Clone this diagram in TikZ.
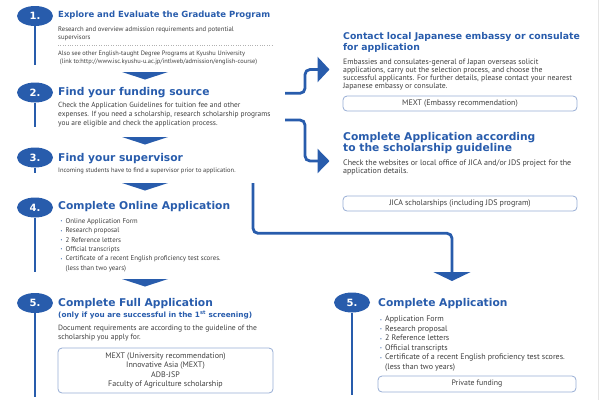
\documentclass[tikz,border=0pt]{standalone}
\usepackage{fontspec}
\setmainfont{PT Sans}
\newfontfamily\headfont{DejaVu Sans}
\usetikzlibrary{shapes,arrows.meta}

\definecolor{kyublue}{RGB}{40,92,172}
\definecolor{bodygray}{RGB}{62,62,62}
\definecolor{boxblue}{RGB}{150,172,212}

\newcommand{\itm}{\makebox[5pt][l]{\textcolor{kyublue}{\fontsize{4}{4}\selectfont\raisebox{0.6pt}{\textbullet}}}}
\newcommand{\fs}[2]{\fontsize{#1}{#2}\selectfont}

\begin{document}
\begin{tikzpicture}[x=1pt, y=-1pt]

% styles
\tikzstyle{stepnum} = [ellipse, fill=kyublue, text=white, font=\headfont\bfseries\fs{10}{10}, minimum width=36pt, minimum height=20pt, inner sep=0pt]
\tikzstyle{steptitle} = [anchor=base west, inner sep=0pt, align=left, text=kyublue, font=\headfont\bfseries\fs{10.7}{11.4}]
\tikzstyle{stepbody} = [anchor=base west, inner sep=0pt, align=left, text=bodygray, font=\fs{6.9}{8.5}]
\tikzstyle{fundbox} = [draw=boxblue, line width=0.8pt, rounded corners=4pt, text=bodygray, font=\fs{8}{9.2}, align=center, inner sep=0pt]
\tikzstyle{stepline} = [draw=kyublue, line width=1.4pt]
\tikzstyle{flow} = [draw=kyublue, line width=2.8pt, rounded corners=5pt]

\useasboundingbox (0,0) rectangle (600,400);

% page edge
\draw [gray!20, line width=0.6pt] (598,0) -- (598,400);

% step ovals
\node (s1) [stepnum] at (35,16) {1.};
\node (s2) [stepnum] at (35,92.5) {2.};
\node (s3) [stepnum] at (35,157.5) {3.};
\node (s4) [stepnum] at (35,207.5) {4.};
\node (s5) [stepnum] at (35,303) {5.};
\node (s6) [stepnum] at (352,302.5) {5.};

\foreach \n/\e in {1/65,2/127,3/173,4/272,5/397,6/395}
  \draw [stepline] (s\n.south) -- (s\n.south |- 0,\e);

% left column (multi-line nodes sit on the baseline of their last line)
\node (t1) [steptitle, font=\headfont\bfseries\fs{8.5}{10}] at (58,17.5) {Explore and Evaluate the Graduate Program};
\node (b1) [stepbody, font=\fs{6.7}{8}] at (58,39.5) {Research and overview admission requirements and potential\\supervisors};
\draw [gray!60, dotted] (58,45) -- (273,45);
\node (b1b) [stepbody, font=\fs{6.4}{8}] at (58,63.5) {Also see other English-taught Degree Programs at Kyushu University\\\ (link to:http://www.isc.kyushu-u.ac.jp/intlweb/admission/english-course)};

\node (t2) [steptitle] at (58,95) {Find your funding source};
\node (b2) [stepbody, font=\fs{7.4}{8.7}] at (58,125) {Check the Application Guidelines for tuition fee and other\\expenses. If you need a scholarship, research scholarship programs\\you are eligible and check the application process.};

\node (t3) [steptitle] at (58,161) {Find your supervisor};
\node (b3) [stepbody, font=\fs{6.5}{8}] at (58,172) {Incoming students have to find a supervisor prior to application.};

\node (t4) [steptitle] at (58,209) {Complete Online Application};
\node (l4) [stepbody, font=\fs{6.9}{9.3}] at (60.5,270) {\itm Online Application Form\\\itm Research proposal\\\itm 2 Reference letters\\\itm Official transcripts\\\itm Certificate of a recent English proficiency test scores.\\\hspace*{5pt}(less than two years)};

\node (t5) [steptitle] at (58,306.5) {Complete Full Application};
\node (t5b) [steptitle, font=\headfont\bfseries\fs{7.3}{9}] at (58,317.5) {(only if you are successful in the 1\textsuperscript{st} screening)};
\node (b5) [stepbody, font=\fs{7.6}{8.2}] at (58,339) {Document requirements are according to the guideline of the\\scholarship you apply for.};
\node (m5) [fundbox, minimum width=215pt, minimum height=45pt] at (165.5,370.5) {MEXT (University recommendation)\\Innovative Asia (MEXT)\\ADB-JSP\\Faculty of Agriculture scholarship};

% between-step chevrons
\foreach \y in {72,137,183,279}
  \fill [kyublue] (122,\y) -- (168,\y) -- (145,\y+7.5) -- cycle;

% right column
\node (ta) [steptitle, font=\headfont\bfseries\fs{9.3}{11.4}] at (343,50.7) {Contact local Japanese embassy or consulate\\for application};
\node (ba) [stepbody, font=\fs{7.75}{8.2}] at (343,88.6) {Embassies and consulates-general of Japan overseas solicit\\applications, carry out the selection process, and choose the\\successful applicants. For further details, please contact your nearest\\Japanese embassy or consulate.};
\node (ma) [fundbox, minimum width=234pt, minimum height=15pt] at (460,103.5) {MEXT (Embassy recommendation)};

\node (tb) [steptitle, font=\headfont\bfseries\fs{10.7}{11}] at (343,151) {Complete Application according\\to the scholarship guideline};
\node (bb) [stepbody, font=\fs{8}{8}] at (343,173) {Check the websites or local office of JICA and/or JDS project for the\\application details.};
\node (mb) [fundbox, minimum width=234pt, minimum height=15pt] at (460,203.5) {JICA scholarships (including JDS program)};

\node (tc) [steptitle] at (378,306) {Complete Application};
\node (lc) [stepbody, font=\fs{8}{9.5}] at (380,369.2) {\itm Application Form\\\itm Research proposal\\\itm 2 Reference letters\\\itm Official transcripts\\\itm Certificate of a recent English proficiency test scores.\\\hspace*{5pt}(less than two years)};
\node (mc) [fundbox, font=\fs{7.8}{9}, minimum width=198pt, minimum height=16pt] at (477,384) {Private funding};

% funding arrows
\coordinate (f1) at (285,93.3);
\coordinate (f1t) at (329.5,69.5);
\coordinate (f2) at (285,120);
\coordinate (f2t) at (329.5,161);
\coordinate (f3) at (253,183);
\coordinate (f3k) at (452,233.3);
\coordinate (f3t) at (452,281);
\draw [flow, -{Triangle[width=25pt,length=12pt]}] (f1) -- ++(20,0) |- (f1t);
\draw [flow, -{Triangle[width=24pt,length=12pt]}] (f2) -- ++(20,0) |- (f2t);
\draw [flow, -{Triangle[width=37pt,length=9pt]}] (f3) |- (f3k) -- (f3t);
\end{tikzpicture}
\end{document}
